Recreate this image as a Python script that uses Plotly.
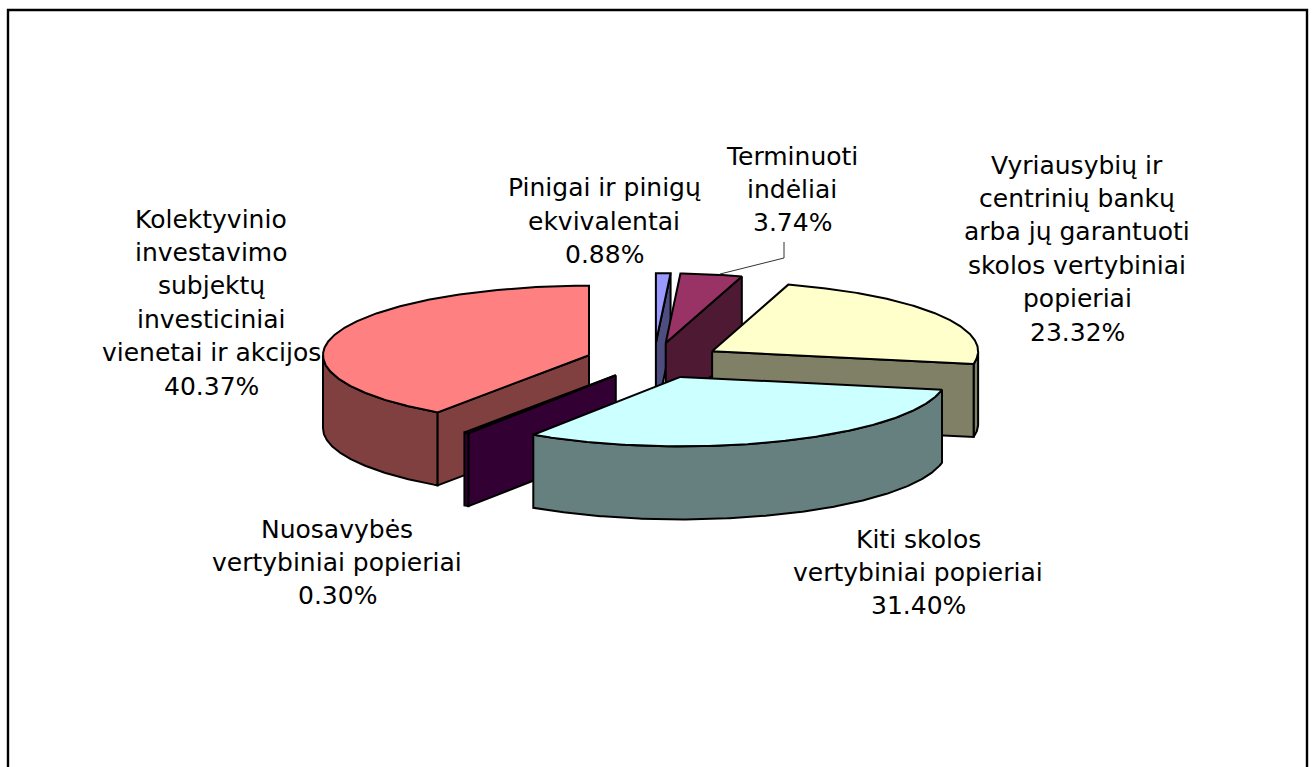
import numpy as np
import plotly.graph_objects as go

# --- data ---
categories = [
    "Pinigai ir pinigų<br>ekvivalentai",
    "Terminuoti<br>indėliai",
    "Vyriausybių ir<br>centrinių bankų<br>arba jų garantuoti<br>skolos vertybiniai<br>popieriai",
    "Kiti skolos<br>vertybiniai popieriai",
    "Nuosavybės<br>vertybiniai popieriai",
    "Kolektyvinio<br>investavimo<br>subjektų<br>investiciniai<br>vienetai ir akcijos",
]
values = [0.88, 3.74, 23.32, 31.40, 0.30, 40.37]

# --- styles ---
top_colors = ["#9999FF", "#993366", "#FFFFCC", "#CCFFFF", "#660066", "#FF8080"]
wall_colors = ["#4D4D80", "#4D1933", "#808066", "#668080", "#330033", "#804040"]
label_pos = [(604, 221), (792, 189.5), (1077, 248.5), (918, 572.5), (337, 562.5), (211, 302.5)]
draw_order = [0, 1, 2, 5, 4, 3]
CX, CY, RX, RY, DEPTH, EXPLODE = 654, 360.5, 266, 69.5, 73, 0.256
LINE_STEP = 33.4
LINE = dict(color="black", width=2)
FONT = dict(family="DejaVu Sans, Verdana, sans-serif", size=25, color="black")


def rim(ax, ay, a0, a1, dy=0.0):
    t = np.radians(np.linspace(a0, a1, max(int(abs(a1 - a0)) * 2, 2)))
    return ax + RX * np.sin(t), ay - RY * np.cos(t) + dy


def poly(fig, xs, ys, color):
    fig.add_trace(go.Scatter(
        x=list(xs) + [xs[0]], y=list(ys) + [ys[0]], mode="lines", fill="toself",
        fillcolor=color, line=LINE, hoverinfo="skip", showlegend=False,
    ))


total = sum(values)
edges = np.concatenate([[0], np.cumsum(values)]) / total * 360

fig = go.Figure()
for i in draw_order:
    a0, a1 = edges[i], edges[i + 1]
    mid = np.radians((a0 + a1) / 2)
    ax = CX + EXPLODE * RX * np.sin(mid)
    ay = CY - EXPLODE * RY * np.cos(mid)
    # outer rim (only the front half faces the viewer)
    lo, hi = max(a0, 90), min(a1, 270)
    if hi > lo:
        x, y = rim(ax, ay, lo, hi)
        poly(fig, np.r_[x, x[::-1]], np.r_[y, y[::-1] + DEPTH], wall_colors[i])
    # radial cut faces
    for ang, seen in ((a0, 180 < a0 < 360), (a1, 0 < a1 < 180)):
        if seen:
            t = np.radians(ang)
            ex, ey = ax + RX * np.sin(t), ay - RY * np.cos(t)
            poly(fig, [ax, ex, ex, ax], [ay, ey, ey + DEPTH, ay + DEPTH], wall_colors[i])
    # top face
    x, y = rim(ax, ay, a0, a1)
    poly(fig, np.r_[ax, x], np.r_[ay, y], top_colors[i])

# leader line of the "Terminuoti" label
fig.add_trace(go.Scatter(x=[720, 784, 784], y=[274, 258, 242], mode="lines",
                         line=dict(color="#333333", width=1), hoverinfo="skip", showlegend=False))

for cat, val, (lx, ly) in zip(categories, values, label_pos):
    lines = cat.split("<br>") + [f"{val:.2f}%"]
    for k, line in enumerate(lines):
        fig.add_annotation(x=lx, y=ly + (k - (len(lines) - 1) / 2) * LINE_STEP, xref="x", yref="y",
                           text=line, showarrow=False, font=FONT, align="center",
                           xanchor="center", yanchor="middle")

fig.add_shape(type="rect", xref="x", yref="y", x0=8, y0=10, x1=1307, y1=800,
              line=dict(color="black", width=2.4), layer="below")
fig.update_xaxes(range=[0, 1315], visible=False, fixedrange=True)
fig.update_yaxes(range=[767, 0], visible=False, fixedrange=True)
fig.update_layout(width=1315, height=767, margin=dict(l=0, r=0, t=0, b=0),
                  paper_bgcolor="white", plot_bgcolor="white", showlegend=False)
fig.write_html("out.html", config={"displayModeBar": False},
               post_script="document.body.style.margin='0';document.body.style.overflow='hidden';")
